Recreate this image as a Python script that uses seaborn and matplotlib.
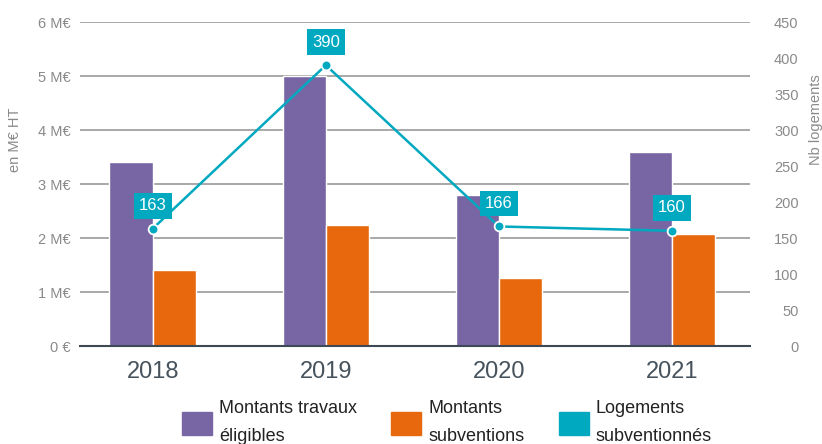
import matplotlib
matplotlib.use("Agg")
import matplotlib.pyplot as plt
import seaborn as sns
import pandas as pd
from matplotlib.patches import Patch

years = ["2018", "2019", "2020", "2021"]
travaux = [3.4, 5.0, 2.8, 3.6]
subventions = [1.41, 2.24, 1.26, 2.07]
logements = [163, 390, 166, 160]
series_names = ["Montants travaux\néligibles", "Montants\nsubventions", "Logements\nsubventionnés"]
left_ticks = [0, 1, 2, 3, 4, 5, 6]
left_labels = ["0 €", "1 M€", "2 M€", "3 M€", "4 M€", "5 M€", "6 M€"]
right_ticks = [0, 50, 100, 150, 200, 250, 300, 350, 400, 450]

PURPLE = "#7866A4"
ORANGE = "#E8690D"
TEAL = "#00A8C0"
GRAY = "#8a8a8a"

sns.set_theme(style="white")
plt.rcParams["font.family"] = ["Liberation Sans", "DejaVu Sans"]

df = pd.DataFrame({
    "year": years * 2,
    "value": travaux + subventions,
    "serie": [series_names[0]] * 4 + [series_names[1]] * 4,
})

fig = plt.figure(figsize=(8.22, 4.44), dpi=100)
ax = fig.add_axes([80 / 822, 1 - 346 / 444, 670 / 822, 324 / 444])

sns.barplot(data=df, x="year", y="value", hue="serie", order=years,
            hue_order=series_names[:2], palette=[PURPLE, ORANGE],
            width=0.5, ax=ax, legend=False, saturation=1)
ax.set_ylim(0, 6)
ax.set_yticks(left_ticks)
ax.set_yticklabels(left_labels)
ax.yaxis.grid(True, color="#9a9a9a", linewidth=1.2)
ax.set_axisbelow(True)
for s in ["top", "left", "right"]:
    ax.spines[s].set_visible(False)
ax.spines["bottom"].set_color("#3d4a55")
ax.spines["bottom"].set_linewidth(1.5)
ax.tick_params(axis="y", length=0, pad=7, labelsize=10.5, labelcolor=GRAY)
ax.tick_params(axis="x", which="major", length=0, pad=11, labelsize=17, labelcolor="#46525c")
ax.set_xticks([0.5, 1.5, 2.5], minor=True)
ax.tick_params(axis="x", which="minor", direction="inout", length=12.5, width=1, color="#8a8a8a")
ax.set_xlabel("")
ax.set_ylabel("en M€ HT", color=GRAY, fontsize=10.5)
ax.yaxis.set_label_coords(-0.086, 0.636)
ax.set_xlim(-0.42, 3.45)

ax2 = ax.twinx()
sns.pointplot(x=years, y=logements, ax=ax2, color=TEAL, markers="o",
              markersize=7, markeredgecolor="white", markeredgewidth=1.3,
              linewidth=1.8)
ax2.set_ylim(0, 450)
ax2.set_yticks(right_ticks)
ax2.set_xlim(-0.42, 3.45)
for s in ["top", "left", "right", "bottom"]:
    ax2.spines[s].set_visible(False)
ax2.tick_params(axis="y", length=0, pad=35, labelsize=10.5, labelcolor=GRAY)
for lbl in ax2.get_yticklabels():
    lbl.set_horizontalalignment("right")
ax2.set_ylabel("Nb logements", color=GRAY, fontsize=10.5)
ax2.yaxis.set_label_coords(1.088, 0.70)
ax2.grid(False)

for i, v in enumerate(logements):
    ax2.annotate(str(v), (i, v), xytext=(0, 16.5), textcoords="offset points",
                 ha="center", va="center", color="white", fontsize=12,
                 bbox=dict(boxstyle="square,pad=0.32", fc=TEAL, ec="none"))

handles = [Patch(color=PURPLE), Patch(color=ORANGE), Patch(color=TEAL)]
fig.legend(handles, series_names, loc="upper left",
           bbox_to_anchor=(182 / 822, 1 - 400 / 444), ncol=3, frameon=False,
           handlelength=1.65, handleheight=1.6, handletextpad=0.4,
           columnspacing=1.9, borderaxespad=0, borderpad=0, labelspacing=0,
           prop={"size": 13})
for t in fig.legends[0].get_texts():
    t.set_linespacing(1.85)
    t.set_color("#222222")

fig.savefig("out.png", dpi=100)
